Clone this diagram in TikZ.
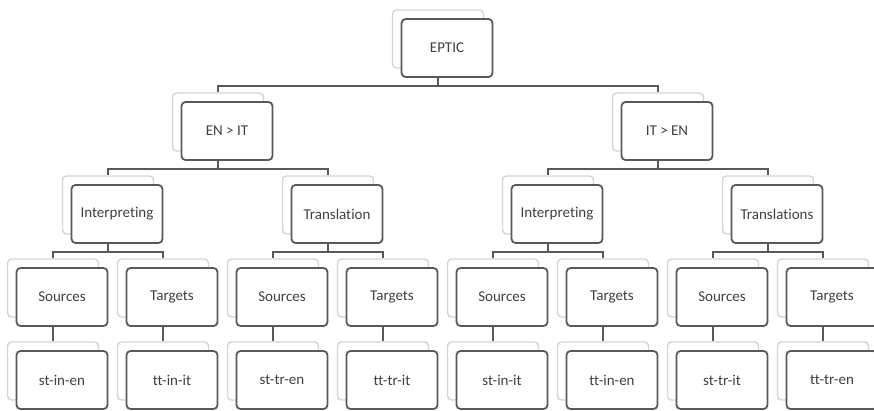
\documentclass[tikz,border=0pt]{standalone}
\usepackage{fontspec}
\setmainfont{Carlito}[Ligatures=NoCommon]
\usetikzlibrary{shadows}
\definecolor{boxline}{HTML}{595959}
\definecolor{ghost}{HTML}{D4D4D4}
\def\link#1#2{\draw[link] ([xshift=-9pt]#1.south) -- ++(0,-8pt) -| ([shift={(-9pt,9pt)}]#2.north);}

\begin{document}
\begin{tikzpicture}[x=1pt,y=1pt,
    box/.style={draw=boxline,line width=1.8pt,fill=white,rounded corners=4pt,
      minimum width=91pt,minimum height=58pt,inner sep=0pt,
      text=black!75,font=\fontsize{15}{17}\selectfont,
      copy shadow={shadow xshift=-9pt,shadow yshift=9pt,draw=ghost,line width=1.4pt,fill=white}},
    link/.style={draw=boxline,line width=1.6pt}]
    \useasboundingbox (0,0) rectangle (874,410);
    % top
    \node[box] (eptic) at (447,362) {EPTIC};
    \node[box] (enit)  at (227,279) {EN > IT};
    \node[box] (iten)  at (667,279) {IT > EN};
    % modes
    \node[box] (enint) at (117,196) {Interpreting};
    \node[box] (entra) at (337,196) {Translation};
    \node[box] (itint) at (557,196) {Interpreting};
    \node[box] (ittra) at (777,196) {Translations};
    % sources / targets
    \node[box] (srcA) at ( 62,113) {Sources};
    \node[box] (tgtA) at (172,113) {Targets};
    \node[box] (srcB) at (282,113) {Sources};
    \node[box] (tgtB) at (392,113) {Targets};
    \node[box] (srcC) at (502,113) {Sources};
    \node[box] (tgtC) at (612,113) {Targets};
    \node[box] (srcD) at (722,113) {Sources};
    \node[box] (tgtD) at (832,113) {Targets};
    % subcorpora
    \node[box] (stinen) at ( 62,30) {st-in-en};
    \node[box] (ttinit) at (172,30) {tt-in-it};
    \node[box] (sttren) at (282,30) {st-tr-en};
    \node[box] (tttrit) at (392,30) {tt-tr-it};
    \node[box] (stinit) at (502,30) {st-in-it};
    \node[box] (ttinen) at (612,30) {tt-in-en};
    \node[box] (sttrit) at (722,30) {st-tr-it};
    \node[box] (tttren) at (832,30) {tt-tr-en};
    % connectors
    \link{eptic}{enit} \link{eptic}{iten}
    \link{enit}{enint} \link{enit}{entra}
    \link{iten}{itint} \link{iten}{ittra}
    \link{enint}{srcA} \link{enint}{tgtA}
    \link{entra}{srcB} \link{entra}{tgtB}
    \link{itint}{srcC} \link{itint}{tgtC}
    \link{ittra}{srcD} \link{ittra}{tgtD}
    \link{srcA}{stinen} \link{tgtA}{ttinit}
    \link{srcB}{sttren} \link{tgtB}{tttrit}
    \link{srcC}{stinit} \link{tgtC}{ttinen}
    \link{srcD}{sttrit} \link{tgtD}{tttren}
\end{tikzpicture}
\end{document}
